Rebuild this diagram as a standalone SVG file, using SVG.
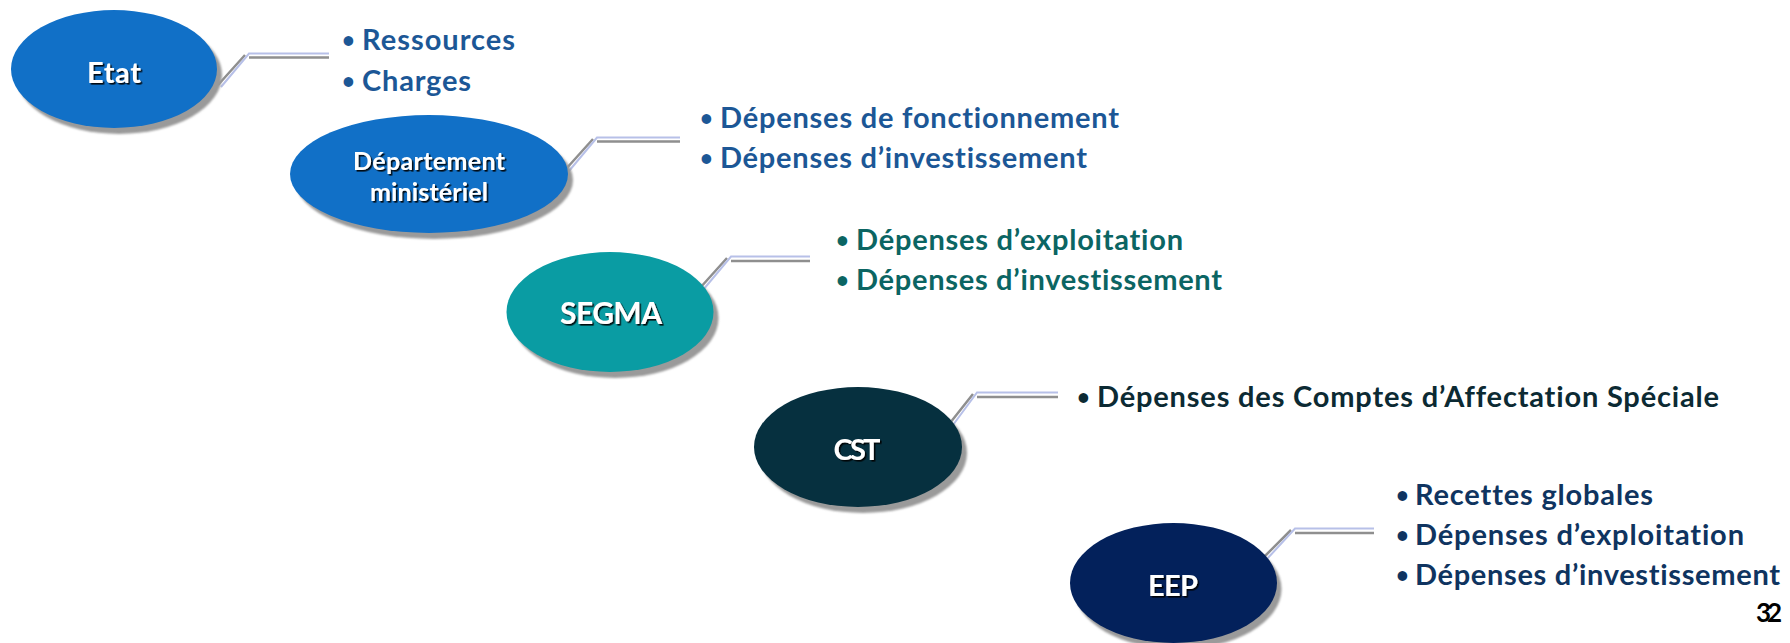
<svg xmlns="http://www.w3.org/2000/svg" width="1790" height="643" viewBox="0 0 1790 643">
<defs>
<filter id="ts" x="-10%" y="-20%" width="130%" height="150%">
<feDropShadow dx="1.6" dy="1.6" stdDeviation="0.4" flood-color="#000" flood-opacity="0.9"/>
</filter>
<filter id="es" x="-10%" y="-10%" width="130%" height="130%">
<feGaussianBlur stdDeviation="0.8"/>
</filter>
</defs>
<style>
text{font-family:Lato,"Open Sans","Liberation Sans",sans-serif;font-weight:bold;font-variant-ligatures:none;font-feature-settings:"liga" 0,"clig" 0}
.lbl{fill:#fff;font-size:29px;text-anchor:middle;filter:url(#ts)}
.shadow{fill:#9a9a9a;filter:url(#es)}
.b{font-size:29px}
.d{font-size:22px}
.blue{fill:#1c5796}
.teal{fill:#0b6563}
.dark{fill:#0c2a33}
.navy{fill:#0f3460}
.g{fill:none;stroke:#8f8f8f;stroke-width:2.5}
.l{fill:none;stroke:#b7c0e8;stroke-width:2}
</style>
<rect width="1790" height="643" fill="#fff"/>
<g id="connectors">
<path class="g" d="M218 85 L245 55 M249 57.5 H329"/>
<path class="l" d="M221 87 L249 53.5 H329"/>
<path class="g" d="M566 169 L593 139 M597 141.5 H680"/>
<path class="l" d="M569 171 L597 137.5 H680"/>
<path class="g" d="M700 288 L727 258 M731 261 H810"/>
<path class="l" d="M703 290 L731 256.5 H810"/>
<path class="g" d="M950 423 L973 394 M977 397 H1058"/>
<path class="l" d="M953 425 L977 392.5 H1058"/>
<path class="g" d="M1263 558 L1291 530 M1295 533 H1374"/>
<path class="l" d="M1266 560 L1295 528.5 H1374"/>
</g>
<g id="node-etat">
<ellipse class="shadow" cx="119" cy="75" rx="103" ry="59"/>
<ellipse cx="114" cy="69" rx="103" ry="59" fill="#1170c7"/>
<text class="lbl" x="114" y="83" textLength="54">Etat</text>
</g>
<g id="node-departement">
<ellipse class="shadow" cx="434" cy="180" rx="139" ry="59"/>
<ellipse cx="429" cy="174" rx="139" ry="59" fill="#1170c7"/>
<text class="lbl" x="429" y="170" style="font-size:25px" textLength="152">Département</text>
<text class="lbl" x="429" y="201" style="font-size:25px" textLength="118">ministériel</text>
</g>
<g id="node-segma">
<ellipse class="shadow" cx="615" cy="318" rx="103.5" ry="60"/>
<ellipse cx="610" cy="312" rx="103.5" ry="60" fill="#0a9ca3"/>
<text class="lbl" x="611" y="324" style="font-size:30px" textLength="102">SEGMA</text>
</g>
<g id="node-cst">
<ellipse class="shadow" cx="863" cy="453" rx="104" ry="60"/>
<ellipse cx="858" cy="447" rx="104" ry="60" fill="#06303f"/>
<text class="lbl" x="857" y="460" textLength="47">CST</text>
</g>
<g id="node-eep">
<ellipse class="shadow" cx="1178" cy="589" rx="103.5" ry="60"/>
<ellipse cx="1173.5" cy="583" rx="103.5" ry="60" fill="#03215b"/>
<text class="lbl" x="1173" y="596" textLength="50">EEP</text>
</g>
<g id="list-etat" class="b blue">
<text class="d" x="342" y="48">•</text><text x="362" y="50" textLength="153">Ressources</text>
<text class="d" x="342" y="89">•</text><text x="362" y="91" textLength="109">Charges</text>
</g>
<g id="list-departement" class="b blue">
<text class="d" x="700" y="126">•</text><text x="720" y="128" textLength="399">Dépenses de fonctionnement</text>
<text class="d" x="700" y="166">•</text><text x="720" y="168" textLength="367">Dépenses d’investissement</text>
</g>
<g id="list-segma" class="b teal">
<text class="d" x="836" y="248">•</text><text x="856" y="250" textLength="327">Dépenses d’exploitation</text>
<text class="d" x="836" y="288">•</text><text x="856" y="290" textLength="366">Dépenses d’investissement</text>
</g>
<g id="list-cst" class="b dark">
<text class="d" x="1077" y="405">•</text><text x="1097" y="407" textLength="622">Dépenses des Comptes d’Affectation Spéciale</text>
</g>
<g id="list-eep" class="b navy">
<text class="d" x="1396" y="503">•</text><text x="1415" y="505" textLength="238">Recettes globales</text>
<text class="d" x="1396" y="543">•</text><text x="1415" y="545" textLength="329">Dépenses d’exploitation</text>
<text class="d" x="1396" y="583">•</text><text x="1415" y="585" textLength="365">Dépenses d’investissement</text>
</g>
<text x="1756" y="622" style="font-size:26px;fill:#000" textLength="26">32</text>
</svg>
